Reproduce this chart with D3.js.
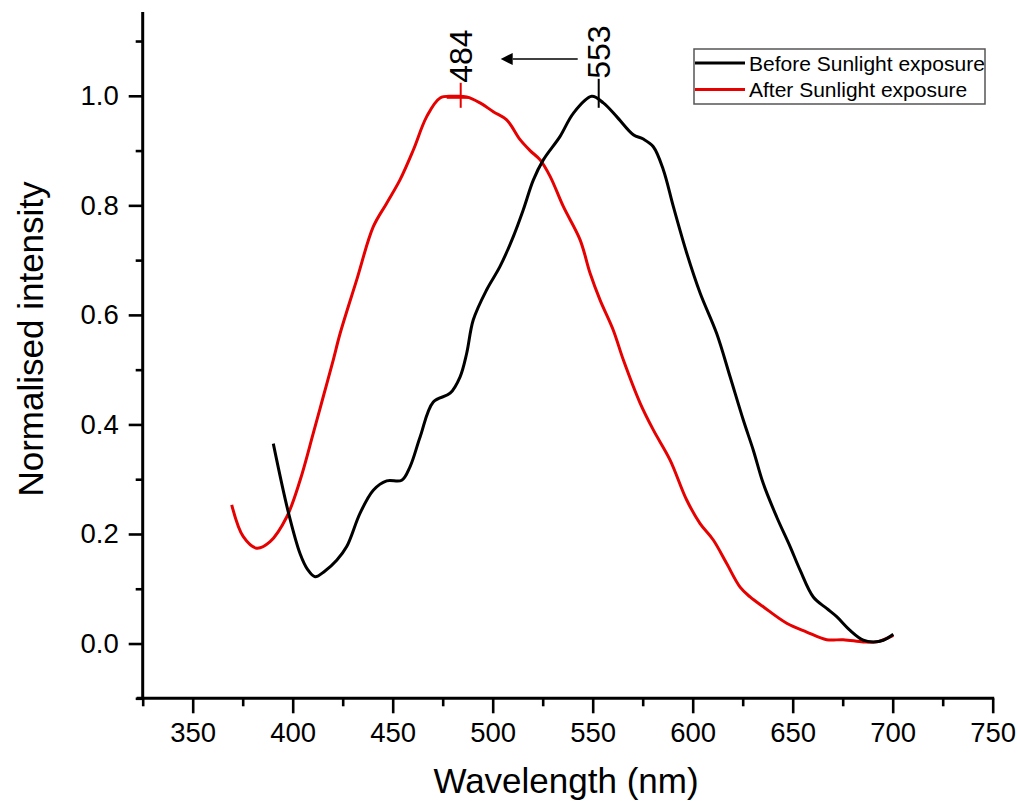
<!DOCTYPE html>
<html><head><meta charset="utf-8">
<script src="https://cdn.jsdelivr.net/npm/d3@7"></script>
<style>
html,body{margin:0;padding:0;background:#fff;}
svg{display:block;font-family:"Liberation Sans",Arial,sans-serif;}
</style></head>
<body>
<svg id="chart" width="1020" height="804"></svg>
<script>
// ---- data ----
const beforeWavelength = [390.3,397.8,403.7,407.5,411.2,416,422,427,433.7,440.3,447,454.5,458.7,463.7,470.3,478.7,483.7,487,490.3,497,503.6,510.3,515.3,520.3,525.3,533.7,540.3,549.5,555.3,562,570.3,575.3,580.3,585.3,590.3,597,603.7,612,618.7,625.3,630.3,635.3,642,648.7,653.7,660.3,667,672,678.7,685.3,690.3,695.3,700.3];
const beforeIntensity  = [0.365,0.240,0.164,0.135,0.122,0.132,0.152,0.177,0.238,0.280,0.297,0.298,0.323,0.377,0.441,0.457,0.487,0.530,0.591,0.646,0.688,0.743,0.792,0.846,0.883,0.926,0.968,0.999,0.987,0.962,0.929,0.921,0.907,0.865,0.798,0.713,0.640,0.566,0.487,0.408,0.353,0.292,0.231,0.177,0.134,0.085,0.064,0.049,0.024,0.006,0.003,0.006,0.017];
const afterWavelength  = [369.5,375.3,382,388.7,397,403.7,410.3,415.3,420.3,423.7,432,440.3,447,453.7,460.3,467,473.7,480.3,487,493.7,500.3,507,513.7,518.7,523.7,528.7,535.3,543.7,548.7,553.7,560.3,565.3,573.7,580.3,588.7,597,603.7,610.3,617,623.7,628.7,635.3,647,657,667,675.3,685.3,692,700.3];
const afterIntensity   = [0.253,0.195,0.174,0.186,0.231,0.298,0.384,0.451,0.518,0.566,0.664,0.761,0.804,0.847,0.901,0.962,0.996,0.999,0.998,0.987,0.971,0.956,0.920,0.900,0.883,0.853,0.798,0.737,0.676,0.627,0.572,0.518,0.439,0.390,0.335,0.262,0.219,0.189,0.146,0.103,0.085,0.067,0.037,0.021,0.007,0.007,0.003,0.003,0.015];
const seriesNames = ["Before Sunlight exposure","After Sunlight exposure"];
const seriesColors = ["#000000","#e60000"];
const xMajorTicks = [350,400,450,500,550,600,650,700,750];
const xMinorTicks = [325,375,425,475,525,575,625,675,725];
const yMajorTicks = [0.0,0.2,0.4,0.6,0.8,1.0];
const yMinorTicks = [-0.1,0.1,0.3,0.5,0.7,0.9,1.1];
const peakLabels = [{wl:484, val:1.0, text:"484", color:"#e60000"},{wl:553, val:1.0, text:"553", color:"#000000"}];
const xTitle = "Wavelength (nm)";
const yTitle = "Normalised intensity";

// ---- chart ----
const svg = d3.select("#chart");
const x = d3.scaleLinear().domain([325,750]).range([142.7,992.7]);
const y = d3.scaleLinear().domain([-0.1,1.153]).range([698.3,12]);

// x axis
const gx = svg.append("g").attr("transform",`translate(0,${y(-0.1)})`);
gx.call(d3.axisBottom(x).tickValues(xMajorTicks).tickSize(15).tickSizeOuter(0).tickPadding(9).tickFormat(d3.format("d")));
gx.append("g").call(d3.axisBottom(x).tickValues(xMinorTicks).tickSize(8).tickSizeOuter(0).tickFormat(""));
gx.selectAll(".domain").remove();
gx.selectAll("line").attr("stroke","#000").attr("stroke-width",2.6);
gx.selectAll("text").attr("font-size",27.5).attr("fill","#000").attr("font-family","Liberation Sans, Arial, sans-serif");

// y axis
const gy = svg.append("g").attr("transform",`translate(${x(325)},0)`);
gy.call(d3.axisLeft(y).tickValues(yMajorTicks).tickSize(14).tickSizeOuter(0).tickPadding(10).tickFormat(d3.format(".1f")));
gy.append("g").call(d3.axisLeft(y).tickValues(yMinorTicks).tickSize(7).tickSizeOuter(0).tickFormat(""));
gy.selectAll(".domain").remove();
gy.selectAll("line").attr("stroke","#000").attr("stroke-width",2.6);
gy.selectAll("text").attr("font-size",27.5).attr("fill","#000").attr("font-family","Liberation Sans, Arial, sans-serif");

// axis lines
svg.append("line").attr("x1",x(325)-6).attr("x2",x(750)+1.5).attr("y1",y(-0.1)).attr("y2",y(-0.1)).attr("stroke","#000").attr("stroke-width",3);
svg.append("line").attr("x1",x(325)).attr("x2",x(325)).attr("y1",y(-0.1)).attr("y2",y(1.153)).attr("stroke","#000").attr("stroke-width",3);

// curves
const line = d3.line().x(d=>x(d[0])).y(d=>y(d[1])).curve(d3.curveCatmullRom.alpha(0.5));
const before = beforeWavelength.map((w,i)=>[w,beforeIntensity[i]]);
const after = afterWavelength.map((w,i)=>[w,afterIntensity[i]]);
svg.append("path").datum(after).attr("d",line).attr("fill","none").attr("stroke",seriesColors[1]).attr("stroke-width",3);
svg.append("path").datum(before).attr("d",line).attr("fill","none").attr("stroke",seriesColors[0]).attr("stroke-width",3);

// peak markers + labels
peakLabels.forEach(p=>{
  const px = x(p.wl), py = y(p.val);
  if(p.text==="484"){
    svg.append("line").attr("x1",px).attr("x2",px).attr("y1",py-13).attr("y2",py+12).attr("stroke",p.color).attr("stroke-width",2);
    svg.append("line").attr("x1",px-14).attr("x2",px+10).attr("y1",py+2).attr("y2",py+2).attr("stroke",p.color).attr("stroke-width",2);
  } else {
    svg.append("line").attr("x1",px).attr("x2",px).attr("y1",py-17).attr("y2",py+12).attr("stroke",p.color).attr("stroke-width",2);
  }
  const tx = px+11;
  const ty = p.text==="484" ? py-13 : py-17;
  svg.append("text").attr("transform",`translate(${tx},${ty}) rotate(-90)`)
    .attr("font-size",32).attr("fill","#000").text(p.text);
});
// arrow from 553 to 484
svg.append("defs").append("marker").attr("id","arr").attr("viewBox","0 0 10 10").attr("refX",0).attr("refY",5)
  .attr("markerWidth",17).attr("markerHeight",12).attr("markerUnits","userSpaceOnUse").attr("orient","auto-start-reverse")
  .append("path").attr("d","M0,0 L10,5 L0,10 Z").attr("fill","#000");
svg.append("line").attr("x1",x(542.5)).attr("x2",x(510)).attr("y1",59).attr("y2",59)
  .attr("stroke","#000").attr("stroke-width",1.3).attr("marker-end","url(#arr)");

// legend
const lg = svg.append("g");
lg.append("rect").attr("x",694).attr("y",49).attr("width",291).attr("height",55).attr("fill","#fff").attr("stroke","#555").attr("stroke-width",1.5);
seriesNames.forEach((n,i)=>{
  const ly = 63 + i*26.5;
  lg.append("line").attr("x1",695).attr("x2",745).attr("y1",ly).attr("y2",ly).attr("stroke",seriesColors[i]).attr("stroke-width",3);
  lg.append("text").attr("x",749).attr("y",ly+7.5).attr("font-size",21).attr("fill","#000").text(n);
});

// titles
svg.append("text").attr("x",566).attr("y",793).attr("text-anchor","middle").attr("font-size",35).attr("fill","#000").text(xTitle);
svg.append("text").attr("transform",`translate(43,339) rotate(-90)`).attr("text-anchor","middle").attr("font-size",35).attr("fill","#000").text(yTitle);
</script>
</body></html>
